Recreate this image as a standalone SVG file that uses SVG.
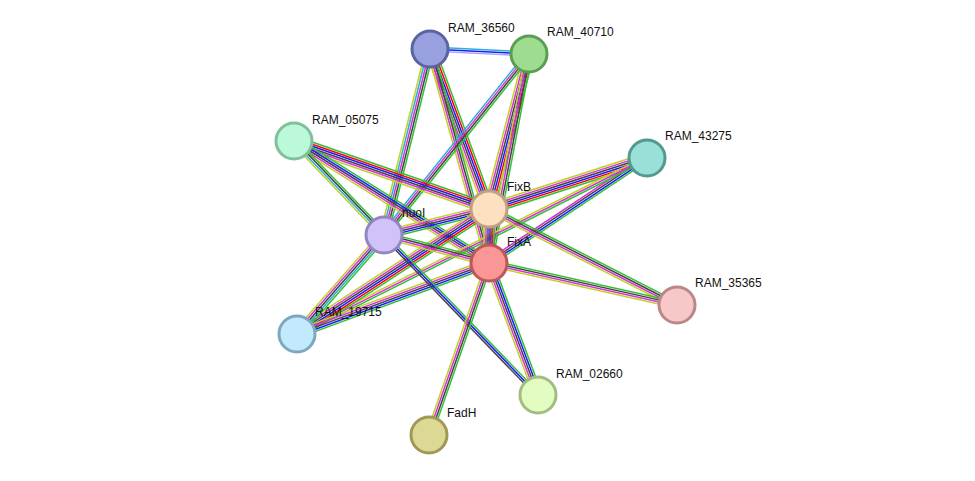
<svg xmlns="http://www.w3.org/2000/svg" width="975" height="481" viewBox="0 0 975 481">
<style>
line{stroke-width:1.5;fill:none}
.g{stroke:#33c133}.r{stroke:#f00}.b{stroke:#1a1aff}.k{stroke:#444}.m{stroke:#d632d6}.y{stroke:#bfd12a}.c{stroke:#2ab0d0}.l{stroke:#a8a8f5}
circle{stroke-width:3}
text{font-family:"Liberation Sans",Arial,sans-serif;font-size:12px;fill:#111}
</style>
<rect width="975" height="481" fill="#fff"/>
<g id="edges">
<g transform="translate(430,49) rotate(2.9)"><line class="c" x2="99" y1="-2" y2="-2"/><line class="b" x2="99"/><line class="l" x2="99" y1="2" y2="2"/></g>
<g transform="translate(430,49) rotate(69.8)"><line class="g" x2="170" y1="-5" y2="-5"/><line class="r" x2="170" y1="-3" y2="-3"/><line class="b" x2="170" y1="-1" y2="-1"/><line class="k" x2="170" y1="1" y2="1"/><line class="m" x2="170" y1="3" y2="3"/><line class="y" x2="170" y1="5" y2="5"/></g>
<g transform="translate(430,49) rotate(74.6)"><line class="g" x2="222" y1="-3" y2="-3"/><line class="k" x2="222" y1="-1" y2="-1"/><line class="m" x2="222" y1="1" y2="1"/><line class="y" x2="222" y1="3" y2="3"/></g>
<g transform="translate(430,49) rotate(103.9)"><line class="g" x2="191" y1="-4" y2="-4"/><line class="k" x2="191" y1="-2" y2="-2"/><line class="m" x2="191"/><line class="c" x2="191" y1="2" y2="2"/><line class="y" x2="191" y1="4" y2="4"/></g>
<g transform="translate(529,54) rotate(104.5)"><line class="g" x2="160" y1="-5" y2="-5"/><line class="r" x2="160" y1="-3" y2="-3"/><line class="b" x2="160" y1="-1" y2="-1"/><line class="k" x2="160" y1="1" y2="1"/><line class="m" x2="160" y1="3" y2="3"/><line class="y" x2="160" y1="5" y2="5"/></g>
<g transform="translate(529,54) rotate(100.8)"><line class="g" x2="213" y1="-3" y2="-3"/><line class="k" x2="213" y1="-1" y2="-1"/><line class="m" x2="213" y1="1" y2="1"/><line class="y" x2="213" y1="3" y2="3"/></g>
<g transform="translate(529,54) rotate(128.7)"><line class="g" x2="232" y1="-3" y2="-3"/><line class="k" x2="232" y1="-1" y2="-1"/><line class="m" x2="232" y1="1" y2="1"/><line class="c" x2="232" y1="3" y2="3"/></g>
<g transform="translate(294,141) rotate(19.2)"><line class="g" x2="206" y1="-5" y2="-5"/><line class="r" x2="206" y1="-3" y2="-3"/><line class="b" x2="206" y1="-1" y2="-1"/><line class="k" x2="206" y1="1" y2="1"/><line class="m" x2="206" y1="3" y2="3"/><line class="y" x2="206" y1="5" y2="5"/></g>
<g transform="translate(294,141) rotate(32)"><line class="g" x2="230" y1="-4" y2="-4"/><line class="b" x2="230" y1="-2" y2="-2"/><line class="k" x2="230"/><line class="m" x2="230" y1="2" y2="2"/><line class="y" x2="230" y1="4" y2="4"/></g>
<g transform="translate(294,141) rotate(46.2)"><line class="g" x2="130" y1="-3" y2="-3"/><line class="k" x2="130" y1="-1" y2="-1"/><line class="c" x2="130" y1="1" y2="1"/><line class="y" x2="130" y1="3" y2="3"/></g>
<g transform="translate(647,158) rotate(162.1)"><line class="g" x2="166" y1="-5" y2="-5"/><line class="r" x2="166" y1="-3" y2="-3"/><line class="b" x2="166" y1="-1" y2="-1"/><line class="k" x2="166" y1="1" y2="1"/><line class="m" x2="166" y1="3" y2="3"/><line class="y" x2="166" y1="5" y2="5"/></g>
<g transform="translate(647,158) rotate(146.4)"><line class="g" x2="190" y1="-3" y2="-3"/><line class="b" x2="190" y1="-1" y2="-1"/><line class="k" x2="190" y1="1" y2="1"/><line class="m" x2="190" y1="3" y2="3"/></g>
<g transform="translate(647,158) rotate(153.3)"><line class="g" x2="392" y1="-2" y2="-2"/><line class="m" x2="392"/><line class="y" x2="392" y1="2" y2="2"/></g>
<g transform="translate(489,209) rotate(90)"><line class="g" x2="54" y1="-5" y2="-5"/><line class="r" x2="54" y1="-3" y2="-3"/><line class="b" x2="54" y1="-1" y2="-1"/><line class="k" x2="54" y1="1" y2="1"/><line class="m" x2="54" y1="3" y2="3"/><line class="y" x2="54" y1="5" y2="5"/></g>
<g transform="translate(489,209) rotate(166.1)"><line class="g" x2="108" y1="-4" y2="-4"/><line class="b" x2="108" y1="-2" y2="-2"/><line class="k" x2="108"/><line class="m" x2="108" y1="2" y2="2"/><line class="y" x2="108" y1="4" y2="4"/></g>
<g transform="translate(489,209) rotate(27.1)"><line class="g" x2="211" y1="-3" y2="-3"/><line class="k" x2="211" y1="-1" y2="-1"/><line class="m" x2="211" y1="1" y2="1"/><line class="y" x2="211" y1="3" y2="3"/></g>
<g transform="translate(489,263) rotate(12.6)"><line class="g" x2="193" y1="-3" y2="-3"/><line class="k" x2="193" y1="-1" y2="-1"/><line class="m" x2="193" y1="1" y2="1"/><line class="y" x2="193" y1="3" y2="3"/></g>
<g transform="translate(489,209) rotate(146.9)"><line class="g" x2="229" y1="-5" y2="-5"/><line class="r" x2="229" y1="-3" y2="-3"/><line class="b" x2="229" y1="-1" y2="-1"/><line class="k" x2="229" y1="1" y2="1"/><line class="m" x2="229" y1="3" y2="3"/><line class="y" x2="229" y1="5" y2="5"/></g>
<g transform="translate(489,263) rotate(159.7)"><line class="g" x2="205" y1="-4" y2="-4"/><line class="b" x2="205" y1="-2" y2="-2"/><line class="k" x2="205"/><line class="m" x2="205" y1="2" y2="2"/><line class="y" x2="205" y1="4" y2="4"/></g>
<g transform="translate(384,235) rotate(131.3)"><line class="g" x2="132" y1="-4" y2="-4"/><line class="c" x2="132" y1="-2" y2="-2"/><line class="k" x2="132"/><line class="m" x2="132" y1="2" y2="2"/><line class="y" x2="132" y1="4" y2="4"/></g>
<g transform="translate(489,263) rotate(69.6)"><line class="g" x2="141" y1="-4" y2="-4"/><line class="b" x2="141" y1="-2" y2="-2"/><line class="k" x2="141"/><line class="m" x2="141" y1="2" y2="2"/><line class="y" x2="141" y1="4" y2="4"/></g>
<g transform="translate(384,235) rotate(46.1)"><line class="g" x2="222" y1="-2" y2="-2"/><line class="b" x2="222"/><line class="k" x2="222" y1="2" y2="2"/></g>
<g transform="translate(489,263) rotate(109.2)"><line class="g" x2="182" y1="-3" y2="-3"/><line class="k" x2="182" y1="-1" y2="-1"/><line class="m" x2="182" y1="1" y2="1"/><line class="y" x2="182" y1="3" y2="3"/></g>
<g transform="translate(384,235) rotate(14.9)"><line class="g" x2="109" y1="-3" y2="-3"/><line class="k" x2="109" y1="-1" y2="-1"/><line class="m" x2="109" y1="1" y2="1"/><line class="y" x2="109" y1="3" y2="3"/></g>
</g>
<g id="RAM_36560"><circle cx="430" cy="49" r="18" fill="#98a0df" stroke="#5a64a0"/><text x="448" y="32">RAM_36560</text></g>
<g id="RAM_40710"><circle cx="529" cy="54" r="18" fill="#9edc90" stroke="#5a9e52"/><text x="547" y="36">RAM_40710</text></g>
<g id="RAM_05075"><circle cx="294" cy="141" r="18" fill="#bcf8da" stroke="#80c09a"/><text x="312" y="124">RAM_05075</text></g>
<g id="RAM_43275"><circle cx="647" cy="158" r="18" fill="#98e0d8" stroke="#54988f"/><text x="665" y="140">RAM_43275</text></g>
<g id="FixB"><circle cx="489" cy="209" r="18" fill="#fde0c0" stroke="#bfa080"/><text x="507" y="191">FixB</text></g>
<g id="nuoI"><circle cx="384" cy="235" r="18" fill="#d2c2fa" stroke="#9484c0"/><text x="402" y="217">nuoI</text></g>
<g id="FixA"><circle cx="489" cy="263" r="18" fill="#fa9696" stroke="#bd5858"/><text x="507" y="246">FixA</text></g>
<g id="RAM_35365"><circle cx="677" cy="305" r="18" fill="#f8c8c8" stroke="#ba8888"/><text x="695" y="287">RAM_35365</text></g>
<g id="RAM_19715"><circle cx="297" cy="334" r="18" fill="#c2eafc" stroke="#7ea8c0"/><text x="315" y="316">RAM_19715</text></g>
<g id="RAM_02660"><circle cx="538" cy="395" r="18" fill="#e2fcc2" stroke="#a2bc82"/><text x="556" y="378">RAM_02660</text></g>
<g id="FadH"><circle cx="429" cy="435" r="18" fill="#ddd994" stroke="#9e9a56"/><text x="447" y="417">FadH</text></g>
</svg>
